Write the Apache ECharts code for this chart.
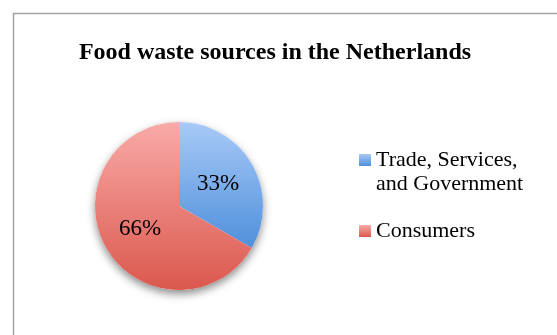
<!DOCTYPE html>
<html>
<head>
<meta charset="utf-8">
<script src="https://cdn.jsdelivr.net/npm/echarts@6/dist/echarts.min.js"></script>
<style>html,body{margin:0;padding:0;background:#fff}#c{width:557px;height:335px}</style>
</head>
<body>
<div id="c"></div>
<script>
const titleText = 'Food waste sources in the Netherlands';
const categories = ['Trade, Services, and Government', 'Consumers'];
const legendLabels = ['Trade, Services,\nand Government', 'Consumers'];
const values = [33, 66];

const topColors = ['#a8caf8', '#f9aaa8'];
const bottomColors = ['#4f8fdb', '#db584d'];
function grad(i) {
  return new echarts.graphic.LinearGradient(0, 0, 0, 1, [
    {offset: 0, color: topColors[i]},
    {offset: 1, color: bottomColors[i]}
  ]);
}
const total = values.reduce((a, b) => a + b, 0);
const serif = '"Liberation Serif", "DejaVu Serif", serif';

const chart = echarts.init(document.getElementById('c'));
chart.setOption({
  animation: false,
  graphic: [{
    type: 'rect', left: 11, top: 11, z: -10,
    shape: {width: 700, height: 500},
    style: {fill: 'none', stroke: '#a3a3a3', lineWidth: 1.5}
  }],
  title: {
    text: titleText, left: 270, top: 36, textAlign: 'center',
    textStyle: {fontFamily: serif, fontWeight: 'bold', fontSize: 24, color: '#000'}
  },
  legend: {
    orient: 'vertical', left: 354, top: 119,
    itemWidth: 12, itemHeight: 12, itemGap: 23, icon: 'rect',
    data: categories,
    formatter: function (name) {
      const i = categories.indexOf(name);
      const t = legendLabels[i];
      return t.indexOf('\n') >= 0 ? ' \n' + t : t;
    },
    textStyle: {fontFamily: serif, fontSize: 22, lineHeight: 24, color: '#000'}
  },
  series: [{
    type: 'pie', silent: true, center: [179, 206], radius: 84, z: 1,
    label: {show: false}, labelLine: {show: false}, legendHoverLink: false,
    data: [{value: total, name: '_bg', itemStyle: {color: '#fff', shadowBlur: 8, shadowOffsetY: 4, shadowColor: 'rgba(0,0,0,0.45)'}}]
  }, {
    type: 'pie', center: [179, 206], radius: 84, z: 2,
    startAngle: 90, clockwise: true,
    label: {show: true, position: 'inside', formatter: '{c}%', fontFamily: serif, fontSize: 23, color: '#000'},
    labelLine: {show: false},
    data: categories.map((c, i) => ({name: c, value: values[i], itemStyle: {color: grad(i)}}))
  }]
});
</script>
</body>
</html>
